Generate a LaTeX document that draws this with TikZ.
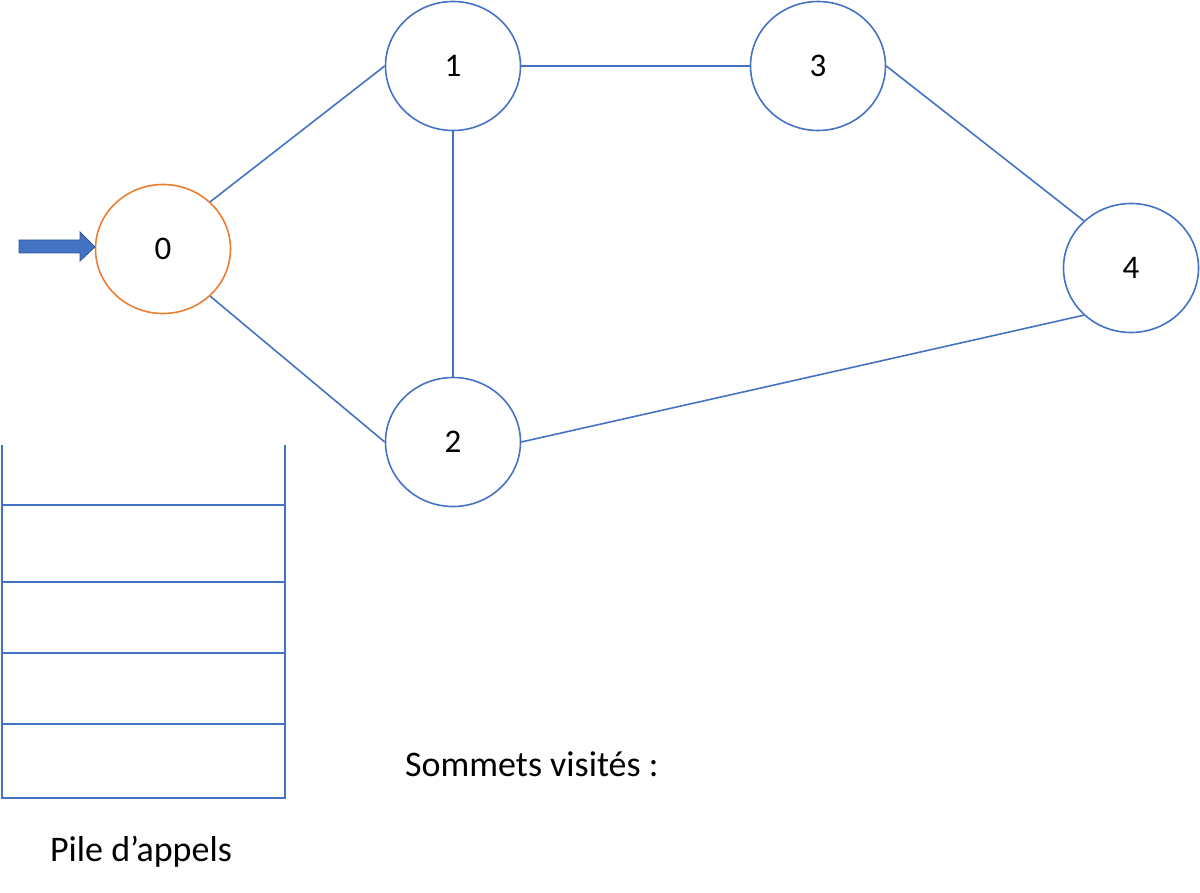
\documentclass[tikz,border=0pt]{standalone}
\usepackage{fontspec}
\setmainfont{Carlito}
\usetikzlibrary{shapes.geometric}
\definecolor{eblue}{HTML}{4472C4}
\definecolor{eorange}{HTML}{ED7D31}
\begin{document}
\begin{tikzpicture}[x=1pt,y=-1pt,
  vtx/.style={ellipse,draw=eblue,line width=1.6pt,minimum width=135pt,minimum height=129pt,inner sep=0pt,font=\fontsize{33}{33}\selectfont},
  edge/.style={draw=eblue,line width=1.6pt},
  stackline/.style={draw=eblue,line width=2.2pt},
  lbl/.style={font=\fontsize{36}{36}\selectfont,inner sep=0pt}]
\useasboundingbox (0,0) rectangle (1200,893);
\node[vtx,draw=eorange] (n0) at (163,249) {0};
\node[vtx] (n1) at (453,66) {1};
\node[vtx] (n3) at (818,66) {3};
\node[vtx] (n4) at (1131,268) {4};
\node[vtx] (n2) at (453,442) {2};
\draw[edge] (n0.45) -- (n1.west);
\draw[edge] (n0.-45) -- (n2.west);
\draw[edge] (n1.east) -- (n3.west);
\draw[edge] (n1.south) -- (n2.north);
\draw[edge] (n3.east) -- (n4.135);
\draw[edge] (n2.east) -- (n4.-135);
% entry arrow
\coordinate (atip) at (95,247);
\fill[eblue,draw=eblue!75!black,line width=0.8pt,line join=miter]
  (19,240) -- (80,240) -- (80,232) -- (atip) -- (80,261) -- (80,253) -- (19,253) -- cycle;
% stack
\coordinate (sTL) at (2,445);
\coordinate (sBL) at (2,798);
\coordinate (sTR) at (285,445);
\coordinate (sBR) at (285,798);
\draw[stackline] (sTL) -- (sBL) -- (sBR) -- (sTR);
\foreach \yy in {505,582,653,724}{\draw[stackline] (2,\yy) -- (285,\yy);}
\node[lbl] (pile) at (141,852) {Pile d’appels};
\node[lbl,anchor=west] (som) at (405,764) {Sommets visités :};
\end{tikzpicture}
\end{document}
